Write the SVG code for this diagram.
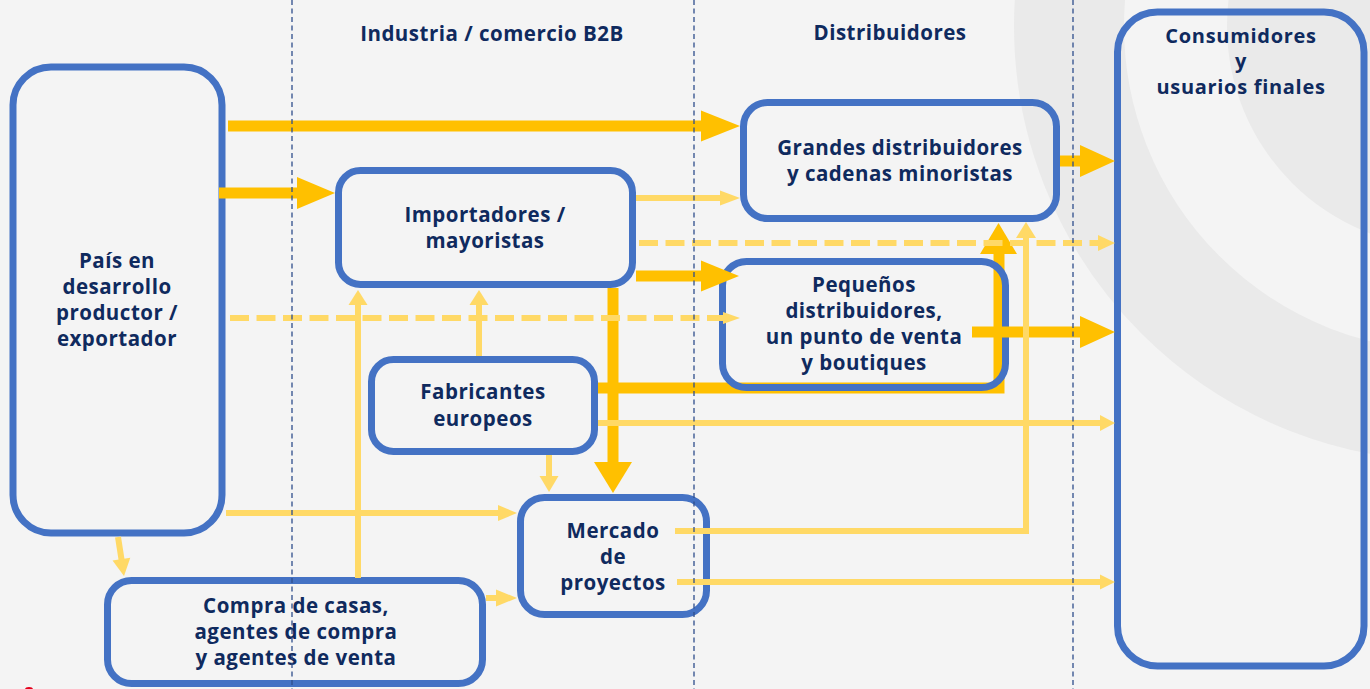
<svg xmlns="http://www.w3.org/2000/svg" width="1370" height="689" viewBox="0 0 1370 689">
<defs>
<style>
.bg{fill:#f4f4f4}
.band{fill:none;stroke:#eaeaea}
.box{fill:none;stroke:#4472c4;stroke-width:7}
.lbl{font-family:"Open Sans","Liberation Sans",Arial,sans-serif;font-weight:700;font-size:20.5px;letter-spacing:0.5px;fill:#0f2a5e;text-anchor:middle}
.cons{font-size:20px;letter-spacing:0.7px}
.thick{fill:none;stroke:#ffc000;stroke-width:11;stroke-linejoin:miter}
.thin{fill:none;stroke:#ffd966;stroke-width:6;stroke-linejoin:miter}
.dash{stroke-dasharray:19 7.5}
.ht{fill:#ffc000}
.hl{fill:#ffd966}
.div{fill:none;stroke:#2f4e8c;stroke-width:1.3;stroke-dasharray:5 3.5}
</style>
<clipPath id="canvas"><rect x="0" y="0" width="1370" height="689"/></clipPath>
</defs>

<rect class="bg" x="0" y="0" width="1370" height="689"/>
<g id="background-rings" clip-path="url(#canvas)">
<circle class="band" cx="1449" cy="26" r="380" stroke-width="110"/>
<circle cx="1449" cy="26" r="222" fill="#eaeaea"/>
</g>

<g id="connectors-under">
<path class="thick" d="M598,388 H999 V254"/>
<polygon class="ht" points="980,254 998.5,223 1017,254"/>
</g>

<g id="nodes">
<g id="pais"><rect class="box" x="13" y="67" width="209" height="466" rx="38"/>
<text class="lbl"><tspan x="117" y="268">País en</tspan><tspan x="117" y="294">desarrollo</tspan><tspan x="117" y="320">productor /</tspan><tspan x="117" y="346">exportador</tspan></text></g>
<g id="importadores"><rect class="box" x="338.5" y="170.5" width="294" height="114" rx="22"/>
<text class="lbl"><tspan x="485" y="222">Importadores /</tspan><tspan x="485" y="248">mayoristas</tspan></text></g>
<g id="grandes"><rect class="box" x="743.5" y="102.5" width="313" height="116" rx="24"/>
<text class="lbl"><tspan x="900" y="155">Grandes distribuidores</tspan><tspan x="900" y="181">y cadenas minoristas</tspan></text></g>
<g id="pequenos"><rect class="box" x="722.5" y="261.5" width="283" height="126" rx="24"/>
<text class="lbl"><tspan x="864" y="292">Pequeños</tspan><tspan x="864" y="318">distribuidores,</tspan><tspan x="864" y="344">un punto de venta</tspan><tspan x="864" y="370">y boutiques</tspan></text></g>
<g id="fabricantes"><rect class="box" x="371.5" y="359.5" width="223" height="92" rx="22"/>
<text class="lbl"><tspan x="483" y="399">Fabricantes</tspan><tspan x="483" y="426">europeos</tspan></text></g>
<g id="mercado"><rect class="box" x="520.5" y="497.5" width="186" height="117" rx="24"/>
<text class="lbl"><tspan x="613" y="538">Mercado</tspan><tspan x="613" y="564">de</tspan><tspan x="613" y="590">proyectos</tspan></text></g>
<g id="compra"><rect class="box" x="107.5" y="580.5" width="375" height="103" rx="24"/>
<text class="lbl"><tspan x="296" y="613">Compra de casas,</tspan><tspan x="296" y="639">agentes de compra</tspan><tspan x="296" y="665">y agentes de venta</tspan></text></g>
<g id="consumidores"><rect class="box" x="1117.5" y="12" width="246.5" height="654" rx="40"/>
<text class="lbl cons"><tspan x="1241" y="43">Consumidores</tspan><tspan x="1241" y="68">y</tspan><tspan x="1241" y="94">usuarios finales</tspan></text></g>
</g>

<g id="connectors">
<line class="thick" x1="228" y1="126" x2="702" y2="126"/>
<polygon class="ht" points="701,110.5 740,126 701,141.5"/>
<line class="thick" x1="219" y1="193" x2="298" y2="193"/>
<polygon class="ht" points="297,177 335,193 297,209"/>
<line class="thick" x1="636" y1="276" x2="702" y2="276"/>
<polygon class="ht" points="701,260.5 739,276 701,291.5"/>
<line class="thick" x1="613" y1="288" x2="613" y2="463"/>
<polygon class="ht" points="594,462 613,493 632,462"/>
<line class="thick" x1="1060" y1="161" x2="1081" y2="161"/>
<polygon class="ht" points="1080,145 1115,161 1080,177"/>
<line class="thick" x1="972" y1="332" x2="1081" y2="332"/>
<polygon class="ht" points="1080,316 1115,332 1080,348"/>
<line class="thin" x1="636" y1="198" x2="721" y2="198"/>
<polygon class="hl" points="720,190.5 740,198 720,205.5"/>
<line class="thin dash" x1="639" y1="243" x2="1099" y2="243"/>
<polygon class="hl" points="1098,235 1115,243 1098,251"/>
<line class="thin dash" x1="230" y1="318" x2="724" y2="318"/>
<polygon class="hl" points="723,312 740,318 723,324"/>
<line class="thin" x1="479" y1="356" x2="479" y2="304"/>
<polygon class="hl" points="469.5,305 479,290 488.5,305"/>
<line class="thin" x1="358" y1="578" x2="358" y2="304"/>
<polygon class="hl" points="348.5,305 358,290 367.5,305"/>
<line class="thin" x1="598" y1="423" x2="1101" y2="423"/>
<polygon class="hl" points="1100,415 1115,423 1100,431"/>
<line class="thin" x1="549" y1="455" x2="549" y2="477"/>
<polygon class="hl" points="539.5,476 549,492 558.5,476"/>
<line class="thin" x1="226" y1="513" x2="499" y2="513"/>
<polygon class="hl" points="498,505 517,513 498,521"/>
<line class="thin" x1="118" y1="537" x2="121.6" y2="560"/>
<polygon class="hl" points="112.5,560.6 124,576 130.3,557.8"/>
<line class="thin" x1="486" y1="598" x2="497" y2="598"/>
<polygon class="hl" points="496,589.5 517,598 496,606.5"/>
<path class="thin" d="M675,531 H1026 V237"/>
<polygon class="hl" points="1016,238 1026,222 1036,238"/>
<line class="thin" x1="677" y1="582" x2="1101" y2="582"/>
<polygon class="hl" points="1100,574.5 1115,582 1100,589.5"/>
</g>

<g id="headers">
<text class="lbl" x="492" y="41">Industria / comercio B2B</text>
<text class="lbl" x="890" y="40">Distribuidores</text>
</g>

<g id="dividers">
<line class="div" x1="292" y1="0" x2="292" y2="689"/>
<line class="div" x1="694" y1="0" x2="694" y2="689"/>
<line class="div" x1="1073" y1="0" x2="1073" y2="689"/>
</g>
<ellipse cx="29" cy="689.5" rx="4" ry="2.5" fill="#e3001b"/>
</svg>
